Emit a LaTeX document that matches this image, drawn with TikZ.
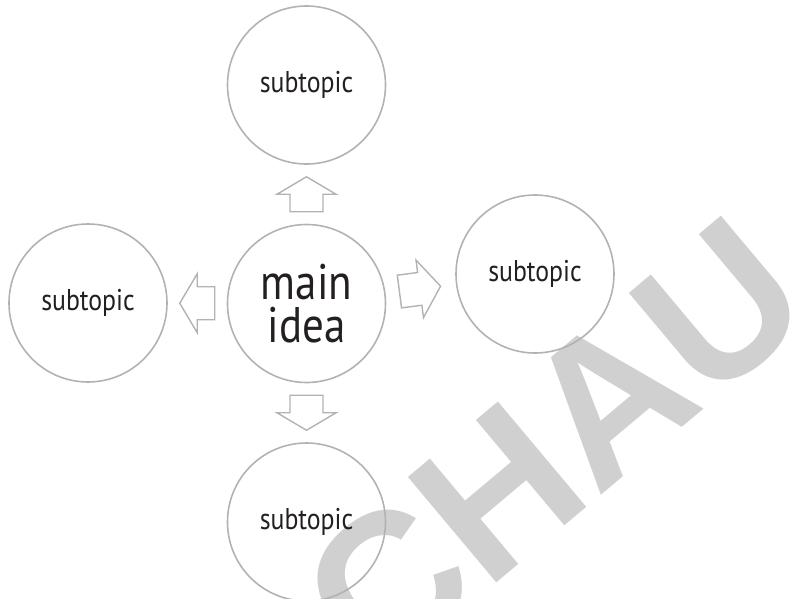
\documentclass[tikz,border=0pt]{standalone}
\usepackage{fontspec}
\setmainfont{PT Sans}[FakeStretch=0.86]
\newfontfamily\wmfont{Liberation Sans}
\usetikzlibrary{calc}
\definecolor{ring}{RGB}{178,178,182}
\definecolor{ink}{RGB}{35,31,32}
\definecolor{wm}{RGB}{208,208,208}
\begin{document}
\begin{tikzpicture}[x=1pt,y=-1pt,
  idea/.style={circle, draw=ring, line width=1.6pt, minimum size=158pt, inner sep=0pt, text=ink},
  sub/.style={idea, font=\fontsize{30}{30}\selectfont},
  mainidea/.style={idea, font=\fontsize{50}{43}\selectfont, align=center},
  arrowline/.style={draw=ring, line width=1.4pt, line join=miter},
  blockarrow/.pic={\draw[arrowline] (-17.5,-16.5) -- (0,-16.5) -- (0,-29.5) -- (17.5,0) -- (0,29.5) -- (0,16.5) -- (-17.5,16.5) -- cycle;},
  tiltarrow/.pic={\draw[arrowline] (-21.5,-16.5) -- (-1,-16.5) -- (-1,-29) -- (20,0) -- (-1,29) -- (-1,16.5) -- (-21.5,16.5) -- cycle;}
]
\useasboundingbox (0,0) rectangle (807,598);
\clip (0,0) rectangle (807,598);
% watermark
\node[font=\wmfont\bfseries\fontsize{200}{200}\selectfont, text=wm, rotate=40, anchor=base east, inner sep=0pt] (wm) at (819,313) {CHAU};
% circles
\node[mainidea] (main) at (306.5,303.5) {main\\idea};
\node[sub] (top) at (306.5,85) {subtopic};
\node[sub] (right) at (535,274) {subtopic};
\node[sub] (left) at (88,303) {subtopic};
\node[sub] (bottom) at (306.5,522) {subtopic};
% block arrows
\pic[rotate=90] at ($(main.north)!0.5!(top.south)$) {blockarrow};
\pic[rotate=-90] at ($(main.south)!0.5!(bottom.north)$) {blockarrow};
\pic[rotate=180] at ($(main.west)!0.5!(left.east)$) {blockarrow};
\pic[rotate=7.4] at ($(main.east)!0.5!(right.west)$) {tiltarrow};
\end{tikzpicture}
\end{document}
